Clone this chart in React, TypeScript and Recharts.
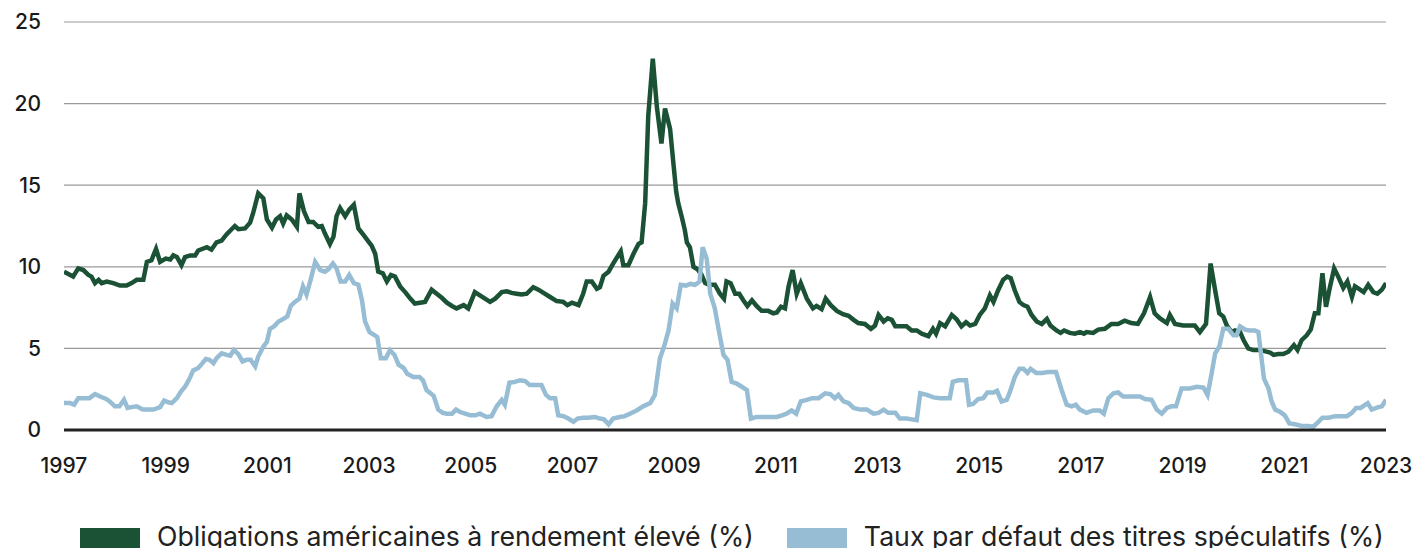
import React from "react";
import { LineChart, Line, XAxis, YAxis, CartesianGrid } from "recharts";

const xTicks = [1997, 1999, 2001, 2003, 2005, 2007, 2009, 2011, 2013, 2015, 2017, 2019, 2021, 2023];
const yTicks = [0, 5, 10, 15, 20, 25];

const seriesNames = [
  "Obligations américaines à rendement élevé (%)",
  "Taux par défaut des titres spéculatifs (%)",
];
const seriesColors = ["#1b5236", "#97bdd4"];

const hyYears = [
  1997.0, 1997.18, 1997.28, 1997.38, 1997.48, 1997.54, 1997.61, 1997.68, 1997.74, 1997.84, 1997.97,
  1998.1, 1998.23, 1998.33, 1998.43, 1998.56, 1998.63, 1998.72, 1998.81, 1998.89, 1999.0,
  1999.09, 1999.15, 1999.22, 1999.31, 1999.38, 1999.48, 1999.58, 1999.64, 1999.81, 1999.9, 2000.0,
  2000.1, 2000.2, 2000.36, 2000.43, 2000.56, 2000.66, 2000.72, 2000.82, 2000.92, 2000.99,
  2001.09, 2001.17, 2001.25, 2001.31, 2001.38, 2001.48, 2001.58, 2001.63, 2001.72, 2001.81, 2001.9, 2002.0,
  2002.07, 2002.13, 2002.23, 2002.3, 2002.36, 2002.43, 2002.53, 2002.61, 2002.7, 2002.79, 2002.89, 2003.0,
  2003.05, 2003.12, 2003.18, 2003.27, 2003.35, 2003.43, 2003.51, 2003.61, 2003.71, 2003.81, 2003.9, 2004.0,
  2004.1, 2004.23, 2004.33, 2004.43, 2004.53, 2004.63, 2004.72, 2004.86, 2004.95,
  2005.08, 2005.18, 2005.28, 2005.38, 2005.48, 2005.61, 2005.71, 2005.8, 2005.9, 2006.0,
  2006.1, 2006.23, 2006.33, 2006.43, 2006.56, 2006.69, 2006.82, 2006.9, 2006.99,
  2007.12, 2007.21, 2007.28, 2007.38, 2007.48, 2007.54, 2007.61, 2007.71, 2007.8, 2007.95, 2008.0,
  2008.1, 2008.2, 2008.3, 2008.36, 2008.43, 2008.49, 2008.58, 2008.66, 2008.75, 2008.82, 2008.92, 2008.98,
  2009.04, 2009.08, 2009.15, 2009.21, 2009.25, 2009.31, 2009.38, 2009.46, 2009.54, 2009.61, 2009.69, 2009.8, 2009.9, 2009.98,
  2010.03, 2010.11, 2010.2, 2010.28, 2010.36, 2010.44, 2010.53, 2010.62, 2010.72, 2010.85, 2010.95,
  2011.02, 2011.1, 2011.18, 2011.25, 2011.33, 2011.41, 2011.49, 2011.61, 2011.73, 2011.8, 2011.9, 2011.98,
  2012.08, 2012.2, 2012.32, 2012.43, 2012.53, 2012.62, 2012.75, 2012.87, 2012.95,
  2013.02, 2013.12, 2013.2, 2013.28, 2013.35, 2013.44, 2013.57, 2013.67, 2013.77, 2013.87, 2014.0,
  2014.09, 2014.15, 2014.23, 2014.33, 2014.46, 2014.55, 2014.65, 2014.74, 2014.82, 2014.92,
  2015.01, 2015.11, 2015.21, 2015.28, 2015.37, 2015.47, 2015.55, 2015.62, 2015.7, 2015.79, 2015.87, 2015.95,
  2016.03, 2016.13, 2016.23, 2016.33, 2016.4, 2016.52, 2016.6, 2016.67, 2016.78, 2016.88, 2016.98,
  2017.06, 2017.11, 2017.24, 2017.34, 2017.47, 2017.6, 2017.73, 2017.86, 2017.99,
  2018.12, 2018.24, 2018.36, 2018.45, 2018.55, 2018.69, 2018.75, 2018.85,
  2019.01, 2019.15, 2019.24, 2019.34, 2019.46, 2019.55, 2019.64, 2019.72, 2019.8, 2019.87, 2019.96,
  2020.03, 2020.13, 2020.2, 2020.29, 2020.39, 2020.49, 2020.59, 2020.72, 2020.79, 2020.88, 2020.98,
  2021.08, 2021.19, 2021.26, 2021.34, 2021.44, 2021.52, 2021.6, 2021.67, 2021.75, 2021.82, 2021.9, 2021.98,
  2022.06, 2022.16, 2022.24, 2022.33, 2022.39, 2022.49, 2022.56, 2022.65, 2022.75, 2022.83, 2022.92, 2023.0,
];
const hyValues = [
  9.7, 9.4, 9.9, 9.8, 9.5, 9.4, 9.0, 9.2, 9.0, 9.1, 9.0,
  8.85, 8.85, 9.0, 9.2, 9.2, 10.3, 10.4, 11.1, 10.3, 10.5,
  10.45, 10.7, 10.6, 10.1, 10.6, 10.7, 10.7, 11.0, 11.2, 11.05, 11.5,
  11.6, 12.0, 12.5, 12.3, 12.35, 12.7, 13.3, 14.5, 14.2, 12.9,
  12.4, 12.9, 13.1, 12.65, 13.15, 12.9, 12.45, 14.5, 13.4, 12.75, 12.75, 12.45,
  12.5, 12.05, 11.4, 11.85, 13.1, 13.6, 13.1, 13.5, 13.8, 12.35, 11.95, 11.5,
  11.3, 10.8, 9.7, 9.6, 9.1, 9.5, 9.4, 8.8, 8.45, 8.05, 7.75, 7.8,
  7.85, 8.6, 8.35, 8.1, 7.8, 7.6, 7.45, 7.65, 7.45,
  8.45, 8.25, 8.05, 7.85, 8.05, 8.45, 8.5, 8.4, 8.35, 8.3,
  8.35, 8.75, 8.6, 8.4, 8.15, 7.9, 7.85, 7.65, 7.8,
  7.65, 8.35, 9.1, 9.1, 8.65, 8.75, 9.45, 9.7, 10.2, 10.95, 10.1,
  10.1, 10.8, 11.4, 11.5, 13.9, 19.2, 22.75, 19.8, 17.55, 19.7, 18.45, 16.5,
  14.6, 13.9, 13.05, 12.25, 11.5, 11.2, 10.0, 9.85, 9.5, 9.0, 8.9, 8.9, 8.35, 8.05,
  9.1, 9.0, 8.35, 8.35, 7.95, 7.6, 7.95, 7.6, 7.3, 7.3, 7.15,
  7.2, 7.55, 7.45, 8.8, 9.8, 8.35, 9.0, 8.05, 7.45, 7.6, 7.4, 8.05,
  7.65, 7.3, 7.1, 7.0, 6.75, 6.55, 6.5, 6.2, 6.4,
  7.05, 6.65, 6.85, 6.75, 6.35, 6.35, 6.35, 6.1, 6.1, 5.9, 5.75,
  6.2, 5.9, 6.55, 6.35, 7.05, 6.8, 6.35, 6.6, 6.4, 6.5,
  7.05, 7.45, 8.25, 7.85, 8.55, 9.2, 9.4, 9.3, 8.55, 7.85, 7.65, 7.55,
  7.05, 6.65, 6.5, 6.8, 6.4, 6.1, 5.95, 6.1, 5.95, 5.9, 6.0,
  5.9, 6.0, 5.95, 6.15, 6.2, 6.5, 6.5, 6.7, 6.55,
  6.5, 7.15, 8.15, 7.15, 6.85, 6.55, 7.05, 6.5,
  6.4, 6.4, 6.4, 6.0, 6.5, 10.2, 8.55, 7.15, 6.95, 6.4, 6.0,
  6.1, 6.0, 5.5, 5.0, 4.9, 4.9, 4.85, 4.75, 4.6, 4.65, 4.65,
  4.8, 5.2, 4.9, 5.5, 5.8, 6.15, 7.15, 7.15, 9.6, 7.55, 8.8, 9.9,
  9.4, 8.7, 9.1, 8.15, 8.8, 8.6, 8.45, 8.9, 8.45, 8.35, 8.6, 9.0,
];

const defYears = [
  1997.0, 1997.12, 1997.2, 1997.28, 1997.38, 1997.5, 1997.61, 1997.71, 1997.83, 1997.9, 1998.0,
  1998.09, 1998.18, 1998.25, 1998.33, 1998.43, 1998.55, 1998.66, 1998.76, 1998.89, 1998.97,
  1999.05, 1999.12, 1999.22, 1999.3, 1999.38, 1999.47, 1999.54, 1999.64, 1999.71, 1999.79, 1999.86, 1999.94,
  2000.0, 2000.1, 2000.2, 2000.27, 2000.34, 2000.43, 2000.51, 2000.59, 2000.67, 2000.76, 2000.82, 2000.92, 2000.99,
  2001.05, 2001.13, 2001.22, 2001.31, 2001.39, 2001.46, 2001.54, 2001.63, 2001.7, 2001.77, 2001.85, 2001.94,
  2002.04, 2002.13, 2002.2, 2002.29, 2002.36, 2002.44, 2002.53, 2002.61, 2002.7, 2002.79, 2002.86, 2002.92,
  2003.01, 2003.09, 2003.16, 2003.23, 2003.33, 2003.41, 2003.5, 2003.58, 2003.68, 2003.75, 2003.87, 2003.99,
  2004.06, 2004.13, 2004.27, 2004.36, 2004.45, 2004.53, 2004.63, 2004.71, 2004.79, 2004.89, 2004.99,
  2005.09, 2005.18, 2005.31, 2005.41, 2005.51, 2005.61, 2005.67, 2005.76, 2005.87, 2005.97,
  2006.07, 2006.16, 2006.26, 2006.39, 2006.48, 2006.56, 2006.66, 2006.72, 2006.82, 2006.92,
  2007.02, 2007.1, 2007.21, 2007.31, 2007.44, 2007.54, 2007.62, 2007.71, 2007.8, 2007.93,
  2008.03, 2008.13, 2008.26, 2008.39, 2008.53, 2008.62, 2008.72, 2008.8, 2008.89, 2008.97,
  2009.05, 2009.13, 2009.23, 2009.32, 2009.41, 2009.5, 2009.56, 2009.64, 2009.71, 2009.8, 2009.89, 2009.97,
  2010.05, 2010.13, 2010.23, 2010.33, 2010.43, 2010.51, 2010.62, 2010.82,
  2011.02, 2011.12, 2011.21, 2011.31, 2011.4, 2011.49, 2011.61, 2011.71, 2011.84, 2011.97,
  2012.07, 2012.16, 2012.23, 2012.33, 2012.43, 2012.53, 2012.66, 2012.79, 2012.92,
  2013.02, 2013.12, 2013.21, 2013.35, 2013.44, 2013.57, 2013.67, 2013.77, 2013.84, 2013.97,
  2014.1, 2014.23, 2014.42, 2014.48, 2014.59, 2014.74, 2014.8, 2014.88, 2014.98,
  2015.08, 2015.16, 2015.28, 2015.35, 2015.44, 2015.54, 2015.6, 2015.7, 2015.79, 2015.87, 2015.95,
  2016.01, 2016.12, 2016.23, 2016.36, 2016.51, 2016.62, 2016.72, 2016.82, 2016.9, 2016.98,
  2017.11, 2017.24, 2017.37, 2017.45, 2017.54, 2017.64, 2017.73, 2017.83, 2017.96,
  2018.16, 2018.26, 2018.39, 2018.49, 2018.59, 2018.69, 2018.78, 2018.87, 2018.98,
  2019.14, 2019.28, 2019.41, 2019.49, 2019.57, 2019.64, 2019.72, 2019.8, 2019.9, 2020.0,
  2020.06, 2020.13, 2020.23, 2020.32, 2020.42, 2020.49, 2020.54, 2020.6, 2020.69, 2020.75, 2020.82, 2020.92,
  2021.01, 2021.1, 2021.21, 2021.34, 2021.47, 2021.57, 2021.67, 2021.75, 2021.87,
  2022.0, 2022.23, 2022.33, 2022.41, 2022.5, 2022.64, 2022.72, 2022.85, 2022.92, 2023.0,
];
const defValues = [
  1.65, 1.65, 1.55, 1.95, 1.95, 1.95, 2.2, 2.05, 1.9, 1.75, 1.45,
  1.45, 1.85, 1.35, 1.4, 1.45, 1.25, 1.25, 1.25, 1.4, 1.8,
  1.7, 1.65, 1.95, 2.35, 2.65, 3.15, 3.65, 3.8, 4.05, 4.35, 4.3, 4.1,
  4.4, 4.7, 4.6, 4.55, 4.9, 4.65, 4.2, 4.3, 4.3, 3.9, 4.5, 5.1, 5.4,
  6.2, 6.35, 6.65, 6.8, 6.95, 7.6, 7.85, 8.05, 8.8, 8.3, 9.2, 10.3,
  9.8, 9.7, 9.85, 10.2, 9.9, 9.1, 9.1, 9.5, 9.0, 8.9, 7.95, 6.65,
  6.0, 5.85, 5.7, 4.4, 4.4, 4.9, 4.6, 4.0, 3.8, 3.45, 3.25, 3.25,
  3.05, 2.45, 2.1, 1.25, 1.05, 1.0, 1.0, 1.25, 1.1, 1.0, 0.9,
  0.9, 1.0, 0.8, 0.85, 1.45, 1.85, 1.55, 2.9, 2.95, 3.05,
  3.0, 2.75, 2.75, 2.75, 2.15, 1.95, 1.95, 0.9, 0.85, 0.7,
  0.5, 0.7, 0.75, 0.75, 0.8, 0.7, 0.65, 0.35, 0.7, 0.8,
  0.85, 1.0, 1.2, 1.45, 1.65, 2.15, 4.4, 5.1, 6.1, 7.75,
  7.45, 8.9, 8.85, 8.95, 8.9, 9.1, 11.2, 10.5, 8.35, 7.45, 5.9, 4.6,
  4.3, 2.95, 2.85, 2.65, 2.45, 0.7, 0.8, 0.8,
  0.8, 0.9, 1.0, 1.2, 1.0, 1.75, 1.85, 1.95, 1.95, 2.25,
  2.2, 1.95, 2.15, 1.75, 1.65, 1.35, 1.25, 1.25, 1.0,
  1.05, 1.25, 1.05, 1.05, 0.7, 0.7, 0.65, 0.6, 2.25, 2.15,
  2.0, 1.95, 1.95, 2.95, 3.05, 3.05, 1.55, 1.6, 1.9,
  1.95, 2.3, 2.3, 2.4, 1.75, 1.85, 2.3, 3.25, 3.75, 3.75, 3.5,
  3.75, 3.5, 3.5, 3.55, 3.55, 2.45, 1.55, 1.45, 1.55, 1.25,
  1.05, 1.2, 1.2, 1.0, 1.95, 2.25, 2.3, 2.05, 2.05,
  2.05, 1.9, 1.85, 1.25, 1.0, 1.35, 1.45, 1.45, 2.55,
  2.55, 2.65, 2.6, 2.15, 3.45, 4.7, 5.1, 6.2, 6.2, 5.8,
  5.8, 6.35, 6.15, 6.1, 6.1, 6.0, 4.7, 3.15, 2.55, 1.75, 1.25, 1.1,
  0.9, 0.4, 0.35, 0.25, 0.25, 0.2, 0.5, 0.75, 0.75,
  0.85, 0.85, 1.05, 1.35, 1.35, 1.65, 1.25, 1.4, 1.45, 1.85,
];

const hyData = hyYears.map((t, i) => ({ t, v: hyValues[i] }));
const defData = defYears.map((t, i) => ({ t, v: defValues[i] }));

const FONT = "Inter, 'Noto Sans', sans-serif";

function LegendRow() {
  return (
    <div
      style={{
        position: "absolute",
        left: 80,
        top: 523,
        display: "flex",
        fontFamily: FONT,
        fontSize: 26.7,
        color: "#222",
        lineHeight: "26px",
        whiteSpace: "nowrap",
      }}
    >
      {seriesNames.map((name, i) => (
        <div key={name} style={{ display: "flex", alignItems: "flex-start", marginLeft: i === 0 ? 0 : 33 }}>
          <div style={{ width: 60, height: 26, background: seriesColors[i], marginRight: 17, marginTop: 5 }} />
          <span>{name}</span>
        </div>
      ))}
    </div>
  );
}

export default function App() {
  return (
    <div style={{ position: "absolute", left: 0, top: 0, width: 1418, height: 548, background: "#fff", overflow: "hidden" }}>
      <LineChart width={1418} height={548} margin={{ top: 22, right: 32, left: 0, bottom: 88 }}>
        <CartesianGrid vertical={false} stroke="#9a9a9a" strokeWidth={1.2} />
        <XAxis
          type="number"
          dataKey="t"
          domain={[1997, 2023]}
          ticks={xTicks}
          allowDataOverflow
          height={30}
          axisLine={{ stroke: "#222", strokeWidth: 3 }}
          tickLine={false}
          tickSize={0}
          tickMargin={28}
          interval={0}
          tick={{ fontFamily: FONT, fontSize: 21, fontWeight: 500, fill: "#1a1a1a" }}
        />
        <YAxis
          type="number"
          domain={[0, 25]}
          ticks={yTicks}
          width={64}
          axisLine={false}
          tickLine={false}
          tickSize={0}
          tickMargin={23}
          tick={{ fontFamily: FONT, fontSize: 21, fontWeight: 500, fill: "#1a1a1a" }}
        />
        <Line
          data={hyData}
          dataKey="v"
          type="linear"
          stroke={seriesColors[0]}
          strokeWidth={4.5}
          dot={false}
          isAnimationActive={false}
          name={seriesNames[0]}
        />
        <Line
          data={defData}
          dataKey="v"
          type="linear"
          stroke={seriesColors[1]}
          strokeWidth={4.5}
          dot={false}
          isAnimationActive={false}
          name={seriesNames[1]}
        />
      </LineChart>
      <LegendRow />
    </div>
  );
}
